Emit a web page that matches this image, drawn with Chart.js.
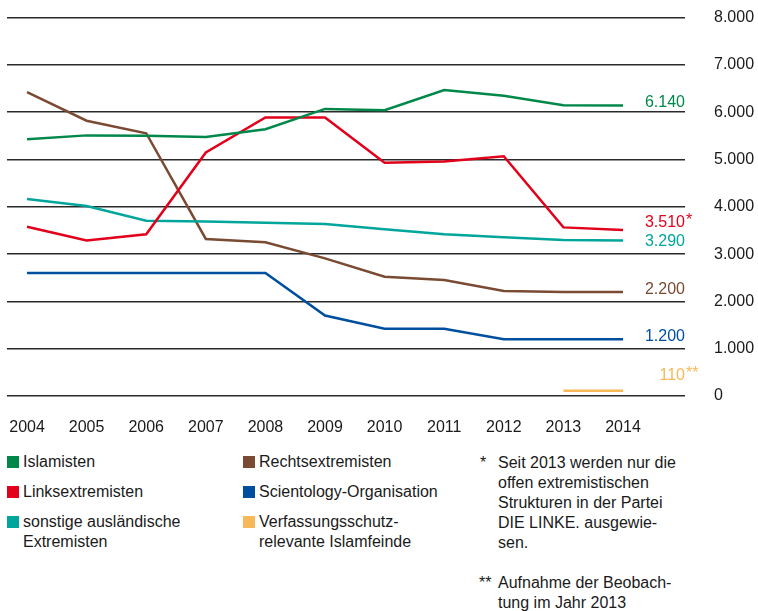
<!DOCTYPE html>
<html>
<head>
<meta charset="utf-8">
<script src="https://cdn.jsdelivr.net/npm/chart.js@4"></script>
<style>
  body { margin: 0; background: #fff; font-family: "Liberation Sans", Arial, sans-serif; color: #1a1a1a; overflow: hidden; }
  #wrap { position: relative; width: 758px; height: 611px; overflow: hidden; }
  canvas { position: absolute; left: 0; top: -21px; }
  .leg { position: absolute; font-size: 16px; line-height: 20px; }
  .sw { position: absolute; width: 12px; height: 12px; }
  .note { position: absolute; font-size: 16px; line-height: 20px; }
</style>
</head>
<body>
<div id="wrap">
  <canvas id="chart" width="758" height="461"></canvas>
  <div id="legend"></div>
  <div class="note" style="left:480px;top:453px;">*</div>
  <div class="note" style="left:498px;top:453px;">Seit 2013 werden nur die<br>offen extremistischen<br>Strukturen in der Partei<br>DIE LINKE. ausgewie-<br>sen.</div>
  <div class="note" style="left:479px;top:573px;">**</div>
  <div class="note" style="left:498px;top:573px;">Aufnahme der Beobach-<br>tung im Jahr 2013</div>
</div>
<script>
const years = [2004, 2005, 2006, 2007, 2008, 2009, 2010, 2011, 2012, 2013, 2014];
const yTicks = [0, 1000, 2000, 3000, 4000, 5000, 6000, 7000, 8000];

const islamisten = [5430, 5510, 5500, 5475, 5640, 6070, 6040, 6470, 6350, 6145, 6140];
const linksextremisten = [3580, 3290, 3420, 5150, 5890, 5890, 4930, 4960, 5070, 3565, 3510];
const sonstige = [4165, 4015, 3705, 3690, 3665, 3635, 3525, 3420, 3355, 3300, 3290];
const rechtsextremisten = [6425, 5820, 5555, 3320, 3250, 2910, 2520, 2450, 2220, 2200, 2200];
const scientology = [2600, 2600, 2600, 2600, 2600, 1700, 1420, 1420, 1200, 1200, 1200];
const islamfeinde = [null, null, null, null, null, null, null, null, null, 110, 110];

const endLabels = ['6.140', '3.510', '3.290', '2.200', '1.200', '110'];
const endSuffix = ['', '*', '', '', '', '**'];

const fmt = v => v.toLocaleString('de-DE');
const pts = arr => years.map((x, i) => ({ x: x, y: arr[i] }));

const series = [
  { label: 'Islamisten', data: islamisten, color: '#00884a', dy: -3 },
  { label: 'Linksextremisten', data: linksextremisten, color: '#e2001a', dy: -7 },
  { label: 'sonstige ausländische Extremisten', data: sonstige, color: '#00a59c', dy: 1 },
  { label: 'Rechtsextremisten', data: rechtsextremisten, color: '#7b4a32', dy: -2 },
  { label: 'Scientology-Organisation', data: scientology, color: '#004f9f', dy: -3 },
  { label: 'Verfassungsschutz-relevante Islamfeinde', data: islamfeinde, color: '#f9b857', dy: -15 }
];

// labels at line ends
const endText = {
  id: 'endText',
  afterDatasetsDraw(chart) {
    const { ctx } = chart;
    const ys = chart.scales.y;
    ctx.save();
    ctx.font = '16px "Liberation Sans", Arial, sans-serif';
    ctx.textBaseline = 'middle';
    chart.data.datasets.forEach((ds, i) => {
      const last = ds.data[ds.data.length - 1];
      const y = ys.getPixelForValue(last.y) + ds.labelDy;
      const x = chart.chartArea.right;
      ctx.fillStyle = ds.borderColor;
      ctx.textAlign = 'right';
      ctx.fillText(endLabels[i], x, y);
      if (endSuffix[i]) {
        ctx.textAlign = 'left';
        ctx.fillText(endSuffix[i], x + 1, y - 2);
      }
    });
    ctx.restore();
  }
};

const config = {
  type: 'line',
  data: {
    datasets: series.map(s => ({
      label: s.label,
      data: pts(s.data),
      borderColor: s.color,
      backgroundColor: s.color,
      borderWidth: 2.5,
      pointRadius: 0,
      tension: 0,
      spanGaps: false,
      labelDy: s.dy
    }))
  },
  options: {
    responsive: false,
    animation: false,
    events: [],
    layout: { padding: { left: 7, top: 17, right: 0, bottom: 0 } },
    plugins: { legend: { display: false }, tooltip: { enabled: false } },
    scales: {
      x: {
        type: 'linear',
        min: 2003.664,
        max: 2015.04,
        afterBuildTicks: scale => { scale.ticks = years.map(v => ({ value: v })); },
        afterFit: scale => {
          scale.height = 44;
          scale.paddingLeft = 0;
          scale.paddingRight = 0;
        },
        grid: { display: false },
        border: { display: false },
        ticks: {
          color: '#1a1a1a',
          font: { size: 16, family: '"Liberation Sans", Arial, sans-serif' },
          padding: 14,
          maxRotation: 0,
          autoSkip: false,
          callback: v => String(v)
        }
      },
      y: {
        position: 'right',
        min: 0,
        max: 8000,
        afterBuildTicks: scale => { scale.ticks = yTicks.map(v => ({ value: v })); },
        afterFit: scale => { scale.width = 73; },
        grid: { color: '#2a2a2a', lineWidth: 1.5, drawTicks: false },
        border: { display: false },
        ticks: {
          color: '#1a1a1a',
          font: { size: 16, family: '"Liberation Sans", Arial, sans-serif' },
          padding: 29,
          callback: v => fmt(v)
        }
      }
    }
  },
  plugins: [endText]
};

const myChart = new Chart(document.getElementById('chart'), config);

// legend, two columns
const legendPos = [
  [7, 456], [7, 486], [7, 516],
  [243, 456], [243, 486], [243, 516]
];
const legendText = [
  'Islamisten', 'Linksextremisten', 'sonstige ausländische<br>Extremisten',
  'Rechtsextremisten', 'Scientology-Organisation', 'Verfassungsschutz-<br>relevante Islamfeinde'
];
const legend = document.getElementById('legend');
series.forEach((s, k) => {
  const [lx, ly] = legendPos[k];
  const sw = document.createElement('div');
  sw.className = 'sw';
  sw.style.left = lx + 'px';
  sw.style.top = ly + 'px';
  sw.style.background = s.color;
  legend.appendChild(sw);
  const t = document.createElement('div');
  t.className = 'leg';
  t.style.left = (lx + 16) + 'px';
  t.style.top = (ly - 4) + 'px';
  t.innerHTML = legendText[k];
  legend.appendChild(t);
});
</script>
</body>
</html>
